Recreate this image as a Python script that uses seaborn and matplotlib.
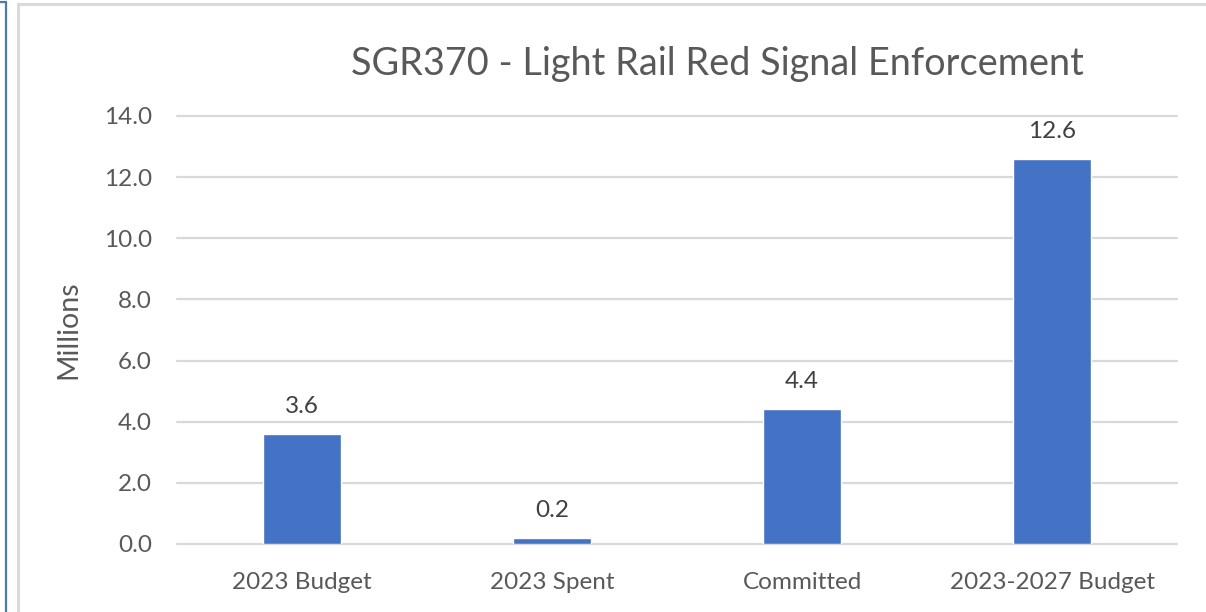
import matplotlib
matplotlib.use("Agg")
import matplotlib.pyplot as plt
import seaborn as sns
import pandas as pd
from matplotlib.patches import Rectangle
from matplotlib.lines import Line2D

categories = ["2023 Budget", "2023 Spent", "Committed", "2023-2027 Budget"]
values = [3.6, 0.2, 4.4, 12.6]
yticks = [0, 2, 4, 6, 8, 10, 12, 14]
title = "SGR370 - Light Rail Red Signal Enforcement"
ylabel = "Millions"

sns.set_theme(style="white")
plt.rcParams['font.family'] = ['Lato', 'DejaVu Sans']

W, H = 1206, 612
fig = plt.figure(figsize=(W / 100, H / 100), dpi=100)
fig.patch.set_facecolor("white")

# frames
fig.add_artist(Rectangle((18 / W, -0.1), 2.0, (H - 4) / H + 0.1, transform=fig.transFigure,
                         fill=False, edgecolor="#d9d9d9", linewidth=2.2))
fig.add_artist(Line2D([6 / W, 6 / W], [0, 1 - 2 / H], transform=fig.transFigure,
                      color="#4a78b8", linewidth=1.6))
fig.add_artist(Line2D([0, 6 / W], [1 - 2 / H, 1 - 2 / H], transform=fig.transFigure,
                      color="#4a78b8", linewidth=1.6))

left, right = 177, 1177
y0, y14 = 544, 116
ax = fig.add_axes([left / W, (H - y0) / H, (right - left) / W, (y0 - y14) / H])

df = pd.DataFrame({"cat": categories, "val": values})
sns.barplot(data=df, x="cat", y="val", color="#4472C4", saturation=1, width=0.31, ax=ax, zorder=3)

ax.set_xlim(-0.5, 3.5)
ax.set_ylim(0, 14)
ax.set_yticks(yticks)
ax.set_yticklabels([f"{v:.1f}" for v in yticks])
ax.grid(axis="y", color="#d9d9d9", linewidth=1.6, zorder=0)
for gl in ax.get_ygridlines():
    gl.set_clip_on(False)
for s in ax.spines.values():
    s.set_visible(False)
ax.tick_params(axis="both", length=0, labelsize=17.5, labelcolor="#595959")
ax.tick_params(axis="y", pad=18)
ax.tick_params(axis="x", pad=20)
ax.set_xlabel("")
ax.set_ylabel(ylabel, fontsize=20.5, color="#595959", labelpad=16)

for i, v in enumerate(values):
    ax.annotate(f"{v:.1f}", (i, v), xytext=(0, 20), textcoords="offset points",
                ha="center", va="center", fontsize=17.5, color="#404040")

fig.text(717 / W, 1 - 64 / H, title, ha="center", va="center", fontsize=27.3, color="#595959")

fig.savefig("out.png", dpi=100, facecolor="white")
